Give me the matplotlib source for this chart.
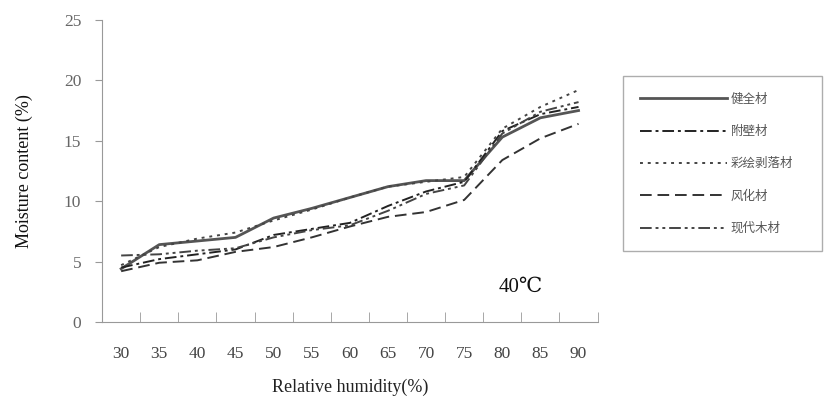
import numpy as np
import matplotlib.pyplot as plt
from matplotlib.ticker import FixedLocator

# Humedad relativa (%)
rh = [30, 35, 40, 45, 50, 55, 60, 65, 70, 75, 80, 85, 90]

# Contenido de humedad (%) a 40 C
sound = [4.4, 6.4, 6.7, 7.0, 8.6, 9.4, 10.3, 11.2, 11.7, 11.7, 15.3, 16.9, 17.5]
attached = [4.5, 5.2, 5.6, 6.0, 7.2, 7.7, 8.2, 9.6, 10.8, 11.6, 15.8, 17.2, 17.8]
peeled = [4.7, 6.2, 6.9, 7.4, 8.4, 9.3, 10.3, 11.2, 11.6, 12.0, 16.0, 17.8, 19.2]
weathered = [4.2, 4.9, 5.1, 5.8, 6.2, 7.0, 7.9, 8.7, 9.1, 10.1, 13.4, 15.2, 16.4]
modern = [5.5, 5.6, 5.9, 6.1, 7.0, 7.6, 8.0, 9.2, 10.6, 11.3, 15.6, 17.4, 18.2]

labels = ["健全材", "附壁材", "彩绘剥落材", "风化材", "现代木材"]
series = [sound, attached, peeled, weathered, modern]
styles = ["-", (0, (6, 2, 1.5, 2)), (0, (1.5, 2.5)), (0, (6, 3)), (0, (6, 2, 1.5, 2, 1.5, 2))]
widths = [2.0, 1.4, 1.4, 1.4, 1.4]
colors = ["#555555", "#222222", "#444444", "#333333", "#444444"]

plt.rcParams['font.family'] = ['Liberation Serif', 'DejaVu Serif', 'Noto Sans CJK SC']

fig = plt.figure(figsize=(8.3, 4.07), dpi=100)
ax = fig.add_axes([0.123, 0.209, 0.597, 0.742])

x = np.arange(len(rh))
for y, lab, ls, lw, c in zip(series, labels, styles, widths, colors):
    ax.plot(x, y, linestyle=ls, linewidth=lw, color=c, label=lab)

ax.set_xlim(-0.5, len(rh) - 0.5)
ax.set_ylim(0, 25)
ax.set_yticks([0, 5, 10, 15, 20, 25])
ax.set_xticks(x)
ax.set_xticklabels([str(v) for v in rh])
ax.xaxis.set_minor_locator(FixedLocator(np.arange(0.5, len(rh), 1.0)))
ax.tick_params(axis='x', which='major', length=0, pad=17, labelsize=12.5, labelcolor='#444444')
ax.tick_params(axis='x', which='minor', length=7, direction='in', color='#999999')
ax.tick_params(axis='y', length=5, direction='out', color='#999999', labelsize=12.5,
               labelcolor='#666666', pad=10)

for s in ['top', 'right']:
    ax.spines[s].set_visible(False)
for s in ['left', 'bottom']:
    ax.spines[s].set_color('#999999')

ax.set_xlabel("Relative humidity(%)", fontsize=13, color='#222222', labelpad=12)
ax.set_ylabel("Moisture content (%)", fontsize=13, color='#111111', labelpad=22)

ax.text(9.9, 2.5, "40℃", fontsize=15, color='#111111',
        family=['Liberation Serif', 'DejaVu Serif'])

leg = fig.legend(loc='upper left', bbox_to_anchor=(617 / 830, 1 - 70 / 407, 211 / 830, 0),
                 mode='expand', labelspacing=1.55, handlelength=7.0,
                 handletextpad=0.3, borderpad=1.3, fancybox=False,
                 prop={'family': ['Noto Sans CJK SC'], 'size': 9})
leg.get_frame().set_edgecolor('#999999')
leg.get_frame().set_linewidth(1.0)
for t in leg.get_texts():
    t.set_color('#555555')

fig.savefig("out.png", dpi=100)
